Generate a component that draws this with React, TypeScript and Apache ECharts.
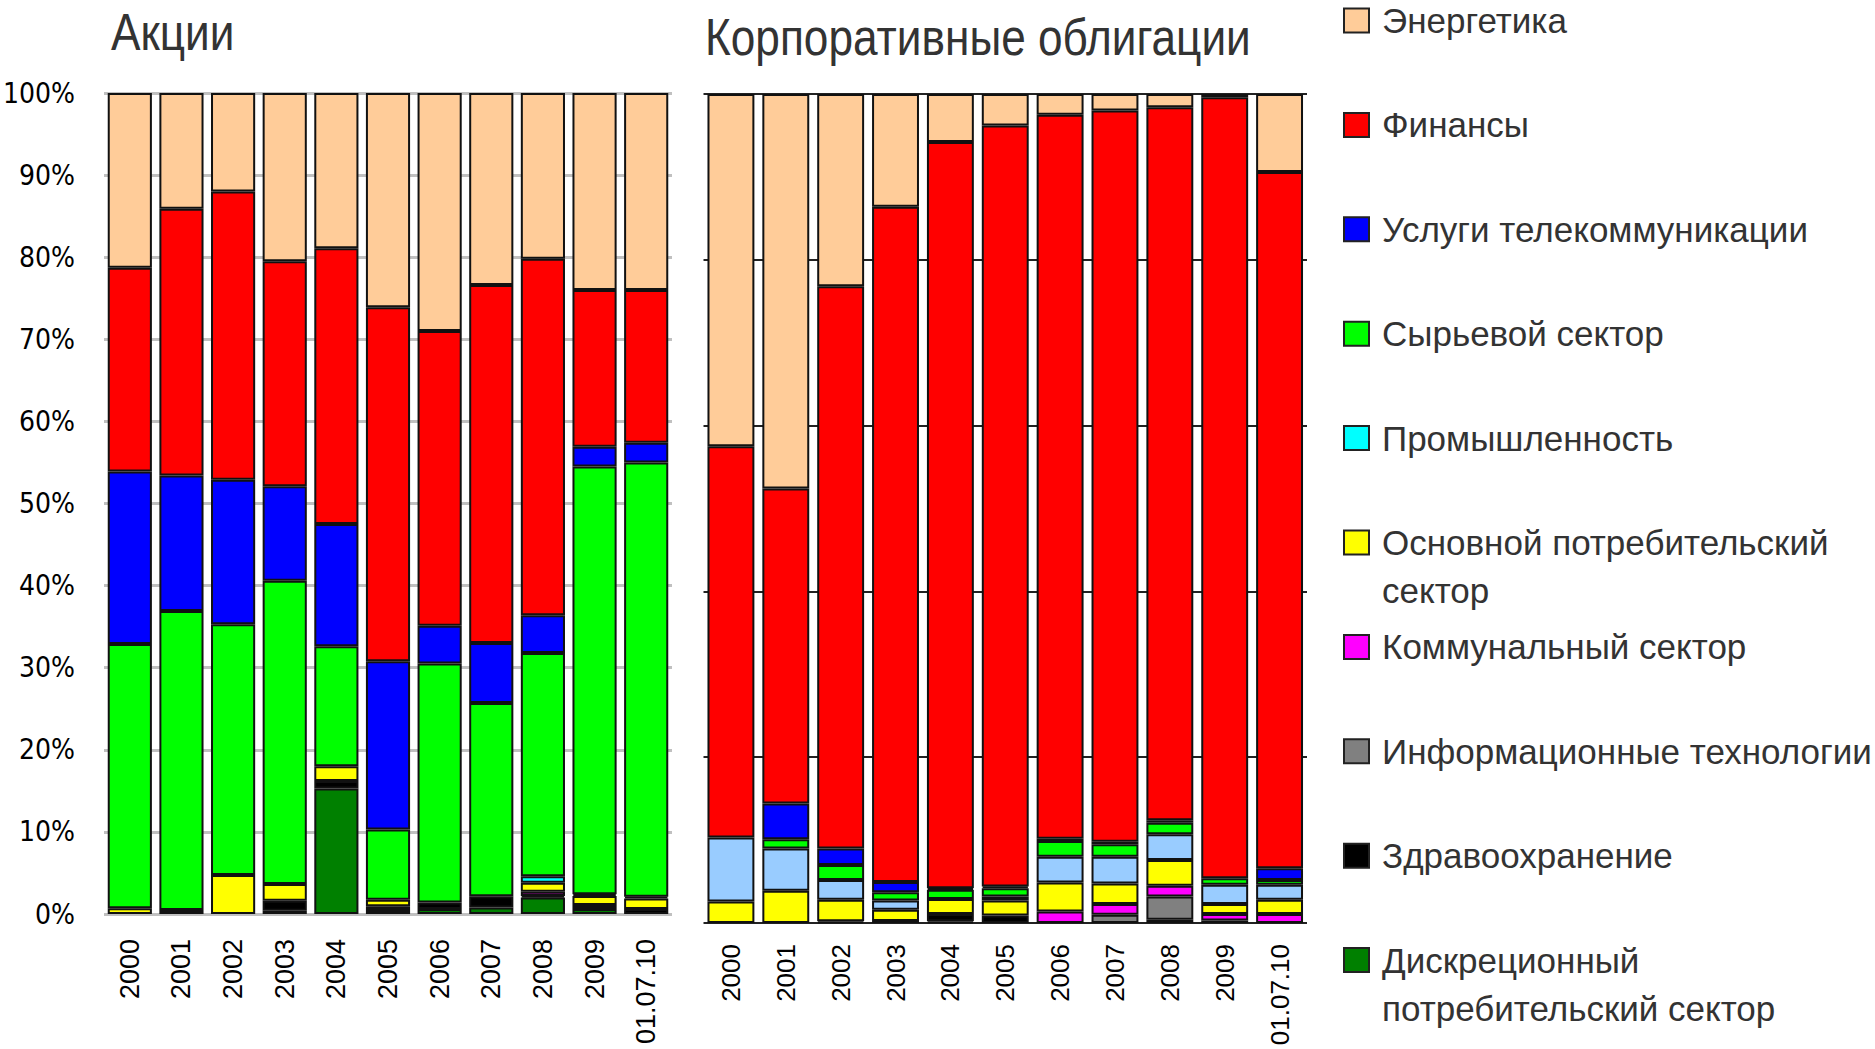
import React, { useEffect, useRef } from "react";
import * as echarts from "echarts";

const YEARS = ["2000", "2001", "2002", "2003", "2004", "2005", "2006", "2007", "2008", "2009", "01.07.10"];
const PANEL_TITLES = ["Акции", "Корпоративные облигации"];

// Акции (equities), % of total
const stocksDisc = [0, 0, 0, 0.4, 15.3, 0, 0.6, 0.8, 2.0, 0.6, 0];
const stocksHealth = [0, 0, 0, 1.2, 0.9, 0.5, 0.8, 1.35, 0.2, 0.5, 0.6];
const stocksIT = [0, 0, 0, 0, 0, 0, 0, 0, 0, 0, 0];
const stocksUtil = [0, 0, 0, 0, 0, 0.45, 0, 0, 0.5, 0, 0];
const stocksStaples = [0.7, 0.5, 4.75, 2.05, 1.8, 0.8, 0, 0, 1.1, 1.1, 1.3];
const stocksIndustry = [0, 0, 0, 0, 0, 0, 0, 0, 0.8, 0.2, 0.2];
const stocksMaterials = [32.2, 36.4, 30.55, 36.95, 14.6, 8.55, 29.1, 23.55, 27.2, 52.1, 52.9];
const stocksTelecom = [21.0, 16.5, 17.6, 11.5, 14.9, 20.5, 4.6, 7.3, 4.6, 2.4, 2.4];
const stocksFinance = [24.8, 32.5, 35.1, 27.4, 33.6, 43.1, 35.9, 43.6, 43.4, 19.1, 18.6];
const stocksEnergy = [21.3, 14.1, 12.0, 20.5, 18.9, 26.1, 29.0, 23.4, 20.2, 24.0, 24.0];

// Корпоративные облигации (corporate bonds), % of total
const bondsDisc = [0, 0, 0, 0, 0.2, 0, 0, 0, 0.4, 0, 0];
const bondsHealth = [0, 0, 0.2, 0.25, 0.9, 0.9, 0, 0, 0, 0.3, 0];
const bondsIT = [0, 0, 0, 0, 0, 0, 0, 1.0, 2.8, 0, 0];
const bondsUtil = [0, 0, 0, 0, 0, 0, 1.4, 1.3, 1.3, 0.8, 1.1];
const bondsStaples = [2.6, 3.9, 2.6, 1.35, 1.8, 1.8, 3.5, 2.45, 3.1, 1.2, 1.7];
const bondsIndustry = [7.7, 5.1, 2.4, 1.1, 0, 0.5, 3.1, 3.25, 3.1, 2.3, 1.8];
const bondsMaterials = [0, 1.1, 1.8, 1.0, 1.1, 1.0, 1.9, 1.5, 1.4, 0.8, 0.6];
const bondsTelecom = [0, 4.3, 2.0, 1.25, 0.2, 0.2, 0.25, 0.3, 0.3, 0, 1.4];
const bondsFinance = [47.2, 38.0, 67.8, 81.45, 90.0, 91.8, 87.35, 88.2, 86.0, 94.2, 84.0];
const bondsEnergy = [42.5, 47.6, 23.2, 13.6, 5.8, 3.8, 2.5, 2.0, 1.6, 0.4, 9.4];

// stacking order: bottom first
const SECTORS = [
  { name: "Дискреционный потребительский сектор", lines: ["Дискреционный", "потребительский сектор"], color: "#008000", bondColor: "#008000", stocks: stocksDisc, bonds: bondsDisc },
  { name: "Здравоохранение", lines: ["Здравоохранение"], color: "#000000", bondColor: "#000000", stocks: stocksHealth, bonds: bondsHealth },
  { name: "Информационные технологии", lines: ["Информационные технологии"], color: "#808080", bondColor: "#808080", stocks: stocksIT, bonds: bondsIT },
  { name: "Коммунальный сектор", lines: ["Коммунальный сектор"], color: "#FF00FF", bondColor: "#FF00FF", stocks: stocksUtil, bonds: bondsUtil },
  { name: "Основной потребительский сектор", lines: ["Основной потребительский", "сектор"], color: "#FFFF00", bondColor: "#FFFF00", stocks: stocksStaples, bonds: bondsStaples },
  { name: "Промышленность", lines: ["Промышленность"], color: "#00FFFF", bondColor: "#99CCFF", stocks: stocksIndustry, bonds: bondsIndustry },
  { name: "Сырьевой сектор", lines: ["Сырьевой сектор"], color: "#00FF00", bondColor: "#00FF00", stocks: stocksMaterials, bonds: bondsMaterials },
  { name: "Услуги телекоммуникации", lines: ["Услуги телекоммуникации"], color: "#0000FF", bondColor: "#0000FF", stocks: stocksTelecom, bonds: bondsTelecom },
  { name: "Финансы", lines: ["Финансы"], color: "#FF0000", bondColor: "#FF0000", stocks: stocksFinance, bonds: bondsFinance },
  { name: "Энергетика", lines: ["Энергетика"], color: "#FFCC99", bondColor: "#FFCC99", stocks: stocksEnergy, bonds: bondsEnergy },
];

const LEGEND_TOP_Y = 20.5;
const LEGEND_STEP = 104.4;

const NARROW = "'Liberation Sans Narrow', 'Arial Narrow', 'DejaVu Sans Condensed', sans-serif";
const REGULAR = "'Liberation Sans', Arial, sans-serif";

export default function App() {
  const ref = useRef<HTMLDivElement>(null);

  useEffect(() => {
    document.body.style.margin = "0";
    const chart = echarts.init(ref.current!, null, { renderer: "svg" });

    const clean = (arr: number[]) => arr.map((v) => (v === 0 ? null : v));

    const series: any[] = [];
    SECTORS.forEach((s) => {
      series.push({
        name: s.name,
        type: "bar",
        stack: "stocks",
        xAxisIndex: 0,
        yAxisIndex: 0,
        barCategoryGap: "14.5%",
        data: clean(s.stocks),
        itemStyle: { color: s.color, borderColor: "#111", borderWidth: 2 },
      });
    });
    SECTORS.forEach((s) => {
      series.push({
        name: s.name,
        type: "bar",
        stack: "bonds",
        xAxisIndex: 1,
        yAxisIndex: 1,
        barCategoryGap: "14.5%",
        data: clean(s.bonds),
        itemStyle: { color: s.bondColor, borderColor: "#111", borderWidth: 2 },
      });
    });

    const legendItems = [...SECTORS].reverse();
    const graphic: any[] = [];
    legendItems.forEach((s, i) => {
      const cy = LEGEND_TOP_Y + LEGEND_STEP * i;
      graphic.push({
        type: "rect",
        shape: { x: 1344, y: cy - 12, width: 25, height: 24 },
        style: { fill: s.color, stroke: "#222", lineWidth: 2 },
      });
      graphic.push({
        type: "text",
        x: 1382,
        y: cy - 24,
        style: {
          text: s.lines.join("\n"),
          fontSize: 35,
          fontFamily: REGULAR,
          fill: "#333",
          lineHeight: 48,
          verticalAlign: "top",
          align: "left",
        },
      });
    });
    graphic.push({
      type: "text",
      x: 111,
      y: 32,
      scaleX: 0.85,
      style: { text: PANEL_TITLES[0], fontSize: 52, fontFamily: REGULAR, fill: "#333", verticalAlign: "middle", align: "left" },
    });
    graphic.push({
      type: "text",
      x: 705,
      y: 37,
      scaleX: 0.85,
      style: { text: PANEL_TITLES[1], fontSize: 52, fontFamily: REGULAR, fill: "#333", verticalAlign: "middle", align: "left" },
    });

    const xLabel = {
      rotate: 90,
      fontFamily: REGULAR,
      color: "#000",
      interval: 0,
    };

    chart.setOption({
      animation: false,
      backgroundColor: "#fff",
      grid: [
        { left: 104, top: 93, width: 568, height: 821, containLabel: false, outerBoundsMode: "none" },
        { left: 703.5, top: 94, width: 603.5, height: 829, containLabel: false, outerBoundsMode: "none" },
      ],
      xAxis: [
        {
          type: "category",
          gridIndex: 0,
          data: YEARS,
          axisLine: { show: false },
          axisTick: { show: false },
          axisLabel: { ...xLabel, fontSize: 27, margin: 25 },
        },
        {
          type: "category",
          gridIndex: 1,
          data: YEARS,
          axisLine: { show: false },
          axisTick: { show: false },
          axisLabel: { ...xLabel, fontSize: 26, margin: 21 },
        },
      ],
      yAxis: [
        {
          type: "value",
          gridIndex: 0,
          min: 0,
          max: 100,
          interval: 10,
          axisLine: { show: false },
          axisTick: { show: false },
          axisLabel: { formatter: "{value}%", fontSize: 28, fontFamily: NARROW, color: "#000", margin: 29 },
          splitLine: { show: true, lineStyle: { color: "#c0c0c0", width: 3 } },
        },
        {
          type: "value",
          gridIndex: 1,
          min: 0,
          max: 100,
          interval: 20,
          axisLine: { show: false },
          axisTick: { show: false },
          axisLabel: { show: false },
          splitLine: { show: true, lineStyle: { color: "#222", width: 2 } },
        },
      ],
      series,
      graphic,
    });

    return () => chart.dispose();
  }, []);

  return <div ref={ref} style={{ position: "fixed", left: 0, top: 0, width: 1875, height: 1049 }} />;
}
